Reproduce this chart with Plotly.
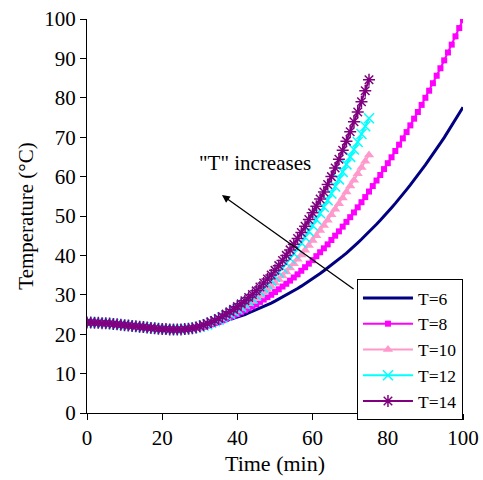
import plotly.graph_objects as go

base = [23.0, 23.0, 22.9, 22.9, 22.8, 22.8, 22.7, 22.6, 22.5, 22.4, 22.3, 22.2, 22.1, 22.0, 21.9,
        21.8, 21.7, 21.6, 21.5, 21.4, 21.3, 21.3, 21.2, 21.2, 21.2, 21.2, 21.3, 21.4, 21.5, 21.7]

t6_rise = [21.6, 21.8, 22.0, 22.3, 22.5, 22.8, 23.1, 23.4, 23.7, 24.0, 24.3, 24.7, 25.0, 25.4, 25.8,
           26.2, 26.6, 27.0, 27.5, 27.9, 28.4, 28.9, 29.4, 29.9, 30.5, 31.0, 31.6, 32.2, 32.8, 33.4,
           34.0, 34.7, 35.4, 36.1, 36.8, 37.5, 38.3, 39.0, 39.8, 40.6, 41.4, 42.3, 43.2, 44.1, 45.0,
           45.9, 46.9, 47.9, 48.9, 49.9, 51.0, 52.1, 53.2, 54.3, 55.5, 56.7, 57.9, 59.1, 60.4, 61.7,
           63.0, 64.3, 65.7, 67.1, 68.5, 69.9, 71.4, 72.9, 74.4, 76.0, 77.6]
t8_rise = [21.7, 21.9, 22.2, 22.5, 22.8, 23.1, 23.5, 23.9, 24.3, 24.7, 25.1, 25.6, 26.1, 26.6, 27.1,
           27.6, 28.2, 28.8, 29.4, 30.0, 30.7, 31.4, 32.1, 32.8, 33.6, 34.4, 35.2, 36.1, 37.0, 37.9,
           38.8, 39.8, 40.8, 41.8, 42.8, 43.9, 45.0, 46.1, 47.3, 48.5, 49.7, 50.9, 52.2, 53.5, 54.8,
           56.2, 57.6, 59.0, 60.4, 61.9, 63.4, 64.9, 66.5, 68.1, 69.7, 71.3, 73.0, 74.7, 76.4, 78.2,
           80.0, 81.8, 83.7, 85.6, 87.5, 89.5, 91.5, 93.5, 95.6, 97.7, 99.8]
t10_rise = [21.8, 22.1, 22.4, 22.7, 23.1, 23.5, 23.9, 24.4, 24.9, 25.4, 25.9, 26.5, 27.1, 27.7, 28.3,
            29.0, 29.7, 30.5, 31.3, 32.1, 33.0, 33.9, 34.8, 35.8, 36.8, 37.9, 39.0, 40.1, 41.3, 42.5,
            43.8, 45.0, 46.3, 47.6, 48.9, 50.3, 51.7, 53.1, 54.6, 56.1, 57.6, 59.1, 60.7, 62.3, 63.9, 65.5]
t12_rise = [21.9, 22.2, 22.5, 22.9, 23.3, 23.7, 24.2, 24.7, 25.2, 25.8, 26.4, 27.0, 27.7, 28.4, 29.1,
            29.9, 30.8, 31.7, 32.6, 33.6, 34.6, 35.7, 36.8, 38.0, 39.2, 40.5, 41.8, 43.2, 44.6, 46.1,
            47.6, 49.1, 50.7, 52.3, 54.0, 55.7, 57.5, 59.3, 61.2, 63.1, 65.0, 66.9, 68.8, 70.8, 72.8, 74.8]
t14_rise = [22.0, 22.3, 22.7, 23.1, 23.5, 24.0, 24.5, 25.1, 25.7, 26.3, 27.0, 27.7, 28.5, 29.3, 30.1,
            31.0, 32.0, 33.0, 34.0, 35.0, 36.2, 37.4, 38.7, 40.0, 41.4, 42.8, 44.3, 45.8, 47.4, 49.1,
            50.8, 52.5, 54.3, 56.1, 58.0, 60.0, 62.2, 64.4, 66.7, 69.0, 71.4, 73.9, 76.4, 79.0, 81.8, 84.6]

series_names = ["T=6", "T=8", "T=10", "T=12", "T=14"]
series_vals = [base + t6_rise, base + t8_rise, base + t10_rise, base + t12_rise, base + t14_rise]
x_ticks = [0, 20, 40, 60, 80, 100]
y_ticks = [0, 10, 20, 30, 40, 50, 60, 70, 80, 90, 100]

styles = [
    dict(mode="lines", line=dict(color="#000080", width=3)),
    dict(mode="lines+markers", line=dict(color="#FF00FF", width=2),
         marker=dict(symbol="square", size=6, color="#FF00FF")),
    dict(mode="lines+markers", line=dict(color="#FF99CC", width=2),
         marker=dict(symbol="triangle-up", size=9, color="#FF99CC")),
    dict(mode="lines+markers", line=dict(color="#00FFFF", width=2),
         marker=dict(symbol="x-thin-open", size=10, color="#00FFFF", line=dict(width=1.5, color="#00FFFF"))),
    dict(mode="lines+markers", line=dict(color="#800080", width=2),
         marker=dict(symbol="asterisk-open", size=10, color="#800080", line=dict(width=1.5, color="#800080"))),
]

fig = go.Figure()
for name, vals, st in zip(series_names, series_vals, styles):
    fig.add_trace(go.Scatter(x=list(range(len(vals))), y=vals, name=name, **st))

font = "Liberation Serif"
fig.update_layout(
    width=483, height=480,
    margin=dict(l=87, r=20, t=19, b=67),
    plot_bgcolor="white", paper_bgcolor="white",
    font=dict(family=font, size=21, color="black"),
    showlegend=True,
    legend=dict(x=0.718, y=0.34, xanchor="left", yanchor="top",
                bordercolor="black", borderwidth=1, bgcolor="white",
                font=dict(family=font, size=17.5), tracegroupgap=0, itemwidth=50),
    xaxis=dict(range=[0, 100], tickvals=x_ticks, showgrid=False, zeroline=False,
               showline=True, linecolor="black", linewidth=1, ticks="outside",
               ticklen=6, tickcolor="black", automargin=False,
               tickfont=dict(family=font, size=21),
               title=dict(text="Time (min)", font=dict(family=font, size=22), standoff=6)),
    yaxis=dict(range=[0, 100], tickvals=y_ticks, showgrid=False, zeroline=False,
               showline=True, linecolor="black", linewidth=1, ticks="outside",
               ticklen=6, tickcolor="black", automargin=False,
               tickfont=dict(family=font, size=21),
               title=dict(text="Temperature (°C)", font=dict(family=font, size=21), standoff=4)),
)

fig.add_annotation(x=35.9, y=55.3, ax=71.3, ay=31.2, xref="x", yref="y", axref="x", ayref="y",
                   text="", showarrow=True, arrowhead=2, arrowsize=1.2, arrowwidth=1.3,
                   arrowcolor="black")
fig.add_annotation(x=44.7, y=63.5, xref="x", yref="y", text='"T" increases',
                   showarrow=False, font=dict(family=font, size=21))

fig.write_html("out.html")
